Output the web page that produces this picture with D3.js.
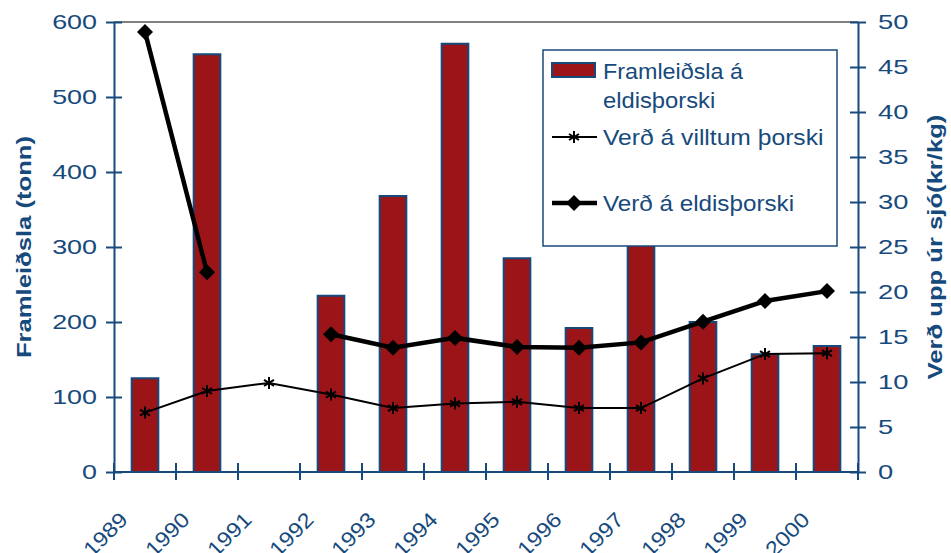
<!DOCTYPE html>
<html>
<head>
<meta charset="utf-8">
<script src="https://cdn.jsdelivr.net/npm/d3@7"></script>
<style>
  body { margin: 0; background: #fff; }
  svg { font-family: "Liberation Sans", Arial, sans-serif; }
</style>
</head>
<body>
<svg id="chart" width="951" height="553"></svg>
<script>
// Data
const years = ["1989", "1990", "1991", "1992", "1993", "1994", "1995", "1996", "1997", "1998", "1999", "2000"];
// Framleiðsla á eldisþorski (tonn), left axis
const production = [125, 557, 0, 235, 368, 571, 285, 192, 400, 200, 157, 168];
// Verð á villtum þorski (kr/kg), right axis
const wildPrice = [6.6, 9.0, 9.9, 8.6, 7.1, 7.6, 7.8, 7.1, 7.1, 10.4, 13.1, 13.2];
// Verð á eldisþorski (kr/kg), right axis; no value for 1991
const farmedPrice = [48.9, 22.2, null, 15.3, 13.8, 14.9, 13.9, 13.8, 14.4, 16.7, 19.0, 20.1];
const leftTicks = [0, 100, 200, 300, 400, 500, 600];
const rightTicks = [0, 5, 10, 15, 20, 25, 30, 35, 40, 45, 50];

const navy = "#174a7c";
const barRed = "#9a1418";

const margin = { top: 22, right: 93, bottom: 81, left: 114 };
const width = 951 - margin.left - margin.right;
const height = 553 - margin.top - margin.bottom;

// the source picture has wide-looking text, so stretch glyphs a bit
function stretch(sel, factor) {
  sel.each(function () {
    const len = this.getComputedTextLength();
    d3.select(this)
      .attr("textLength", len * factor)
      .attr("lengthAdjust", "spacingAndGlyphs");
  });
}

const svg = d3.select("#chart");
const chart = svg.append("g").attr("transform", `translate(${margin.left},${margin.top})`);

// Scales
const xScale = d3.scaleBand().domain(years).range([0, width]);
const yLeft = d3.scaleLinear().domain([0, 600]).range([height, 0]);
const yRight = d3.scaleLinear().domain([0, 50]).range([height, 0]);

const bw = xScale.bandwidth();
const barW = bw * 0.43;

// Top border of plot area
chart.append("line")
  .attr("x1", 0).attr("x2", width)
  .attr("y1", 0).attr("y2", 0)
  .attr("stroke", "#808080").attr("stroke-width", 2);

// Bars
chart.selectAll(".bar")
  .data(years.map((y, i) => ({ year: y, value: production[i] })).filter(d => d.value > 0))
  .join("rect")
  .attr("class", "bar")
  .attr("x", d => xScale(d.year) + (bw - barW) / 2)
  .attr("width", barW)
  .attr("y", d => yLeft(d.value))
  .attr("height", d => height - yLeft(d.value))
  .attr("fill", barRed)
  .attr("stroke", navy)
  .attr("stroke-width", 2);

// Left axis
const yAxisL = d3.axisLeft(yLeft).tickValues(leftTicks).tickSize(8).tickPadding(9).tickSizeOuter(0);
const gL = chart.append("g").call(yAxisL);
gL.select(".domain").attr("stroke", navy).attr("stroke-width", 2);
gL.selectAll(".tick line").attr("x1", -8).attr("x2", 8).attr("stroke", navy).attr("stroke-width", 2);
gL.selectAll(".tick text").attr("fill", navy).style("font-size", "21px").call(stretch, 1.28);

// Right axis
const yAxisR = d3.axisRight(yRight).tickValues(rightTicks).tickSize(8).tickPadding(12).tickSizeOuter(0);
const gR = chart.append("g").attr("transform", `translate(${width},0)`).call(yAxisR);
gR.select(".domain").attr("stroke", navy).attr("stroke-width", 2);
gR.selectAll(".tick line").attr("x1", -8).attr("x2", 8).attr("stroke", navy).attr("stroke-width", 2);
gR.selectAll(".tick text").attr("fill", navy).style("font-size", "21px").call(stretch, 1.3);

// Bottom axis: line, boundary ticks crossing the axis, rotated labels
const gX = chart.append("g").attr("transform", `translate(0,${height})`);
gX.append("line").attr("x1", 0).attr("x2", width).attr("stroke", navy).attr("stroke-width", 2);
gX.selectAll(".xtick")
  .data(d3.range(years.length + 1))
  .join("line")
  .attr("class", "xtick")
  .attr("x1", i => i * xScale.step()).attr("x2", i => i * xScale.step())
  .attr("y1", -9).attr("y2", 8)
  .attr("stroke", navy).attr("stroke-width", 2);
gX.selectAll(".xlabel")
  .data(years)
  .join("text")
  .attr("class", "xlabel")
  .attr("transform", d => `translate(${xScale(d) + bw / 2 - 16},49) rotate(-45)`)
  .attr("text-anchor", "end")
  .attr("fill", navy)
  .style("font-size", "21px")
  .text(d => d)
  .call(stretch, 1.12);

// Axis titles
svg.append("text")
  .attr("transform", `translate(31,${margin.top + height / 2}) rotate(-90)`)
  .attr("text-anchor", "middle")
  .attr("fill", navy)
  .style("font-size", "21px").style("font-weight", "bold")
  .text("Framleiðsla (tonn)")
  .call(stretch, 1.22);
svg.append("text")
  .attr("transform", `translate(942,${margin.top + height / 2}) rotate(-90)`)
  .attr("text-anchor", "middle")
  .attr("fill", navy)
  .style("font-size", "21px").style("font-weight", "bold")
  .text("Verð upp úr sjó(kr/kg)")
  .call(stretch, 1.22);

// Lines
const cx = d => xScale(d) + bw / 2;

const wildLine = d3.line()
  .x((d, i) => cx(years[i]))
  .y(d => yRight(d));
chart.append("path")
  .attr("d", wildLine(wildPrice))
  .attr("fill", "none").attr("stroke", "#000").attr("stroke-width", 2);

const farmedLine = d3.line()
  .defined(d => d != null)
  .x((d, i) => cx(years[i]))
  .y(d => yRight(d));
chart.append("path")
  .attr("d", farmedLine(farmedPrice))
  .attr("fill", "none").attr("stroke", "#000").attr("stroke-width", 4.5);

const starPath = "M0,-6V6M-5,-3L5,3M-5,3L5,-3";
const diamondPath = "M0,-8L8,0L0,8L-8,0Z";

chart.selectAll(".star")
  .data(wildPrice)
  .join("path")
  .attr("class", "star")
  .attr("transform", (d, i) => `translate(${cx(years[i])},${yRight(d)})`)
  .attr("d", starPath)
  .attr("stroke", "#000").attr("stroke-width", 2).attr("fill", "none");

chart.selectAll(".diamond")
  .data(farmedPrice.map((v, i) => ({ year: years[i], v })).filter(d => d.v != null))
  .join("path")
  .attr("class", "diamond")
  .attr("transform", d => `translate(${cx(d.year)},${yRight(d.v)})`)
  .attr("d", diamondPath)
  .attr("fill", "#000");

// Legend
const legend = svg.append("g").attr("transform", "translate(543,50)");
legend.append("rect")
  .attr("width", 294).attr("height", 196)
  .attr("fill", "#fff").attr("stroke", navy).attr("stroke-width", 1.5);

legend.append("rect")
  .attr("x", 9).attr("y", 13).attr("width", 43).attr("height", 14)
  .attr("fill", barRed).attr("stroke", navy).attr("stroke-width", 2);
legend.append("text").attr("x", 60).attr("y", 29)
  .attr("fill", navy).style("font-size", "22px").text("Framleiðsla á")
  .call(stretch, 1.06);
legend.append("text").attr("x", 60).attr("y", 58)
  .attr("fill", navy).style("font-size", "22px").text("eldisþorski")
  .call(stretch, 1.08);

legend.append("line").attr("x1", 9).attr("x2", 54).attr("y1", 87).attr("y2", 87)
  .attr("stroke", "#000").attr("stroke-width", 2);
legend.append("path").attr("transform", "translate(31,87)").attr("d", starPath)
  .attr("stroke", "#000").attr("stroke-width", 2).attr("fill", "none");
legend.append("text").attr("x", 60).attr("y", 95)
  .attr("fill", navy).style("font-size", "22px").text("Verð á villtum þorski")
  .call(stretch, 1.12);

legend.append("line").attr("x1", 9).attr("x2", 54).attr("y1", 153).attr("y2", 153)
  .attr("stroke", "#000").attr("stroke-width", 4.5);
legend.append("path").attr("transform", "translate(31,153)").attr("d", diamondPath)
  .attr("fill", "#000");
legend.append("text").attr("x", 60).attr("y", 161)
  .attr("fill", navy).style("font-size", "22px").text("Verð á eldisþorski")
  .call(stretch, 1.1);
</script>
</body>
</html>
